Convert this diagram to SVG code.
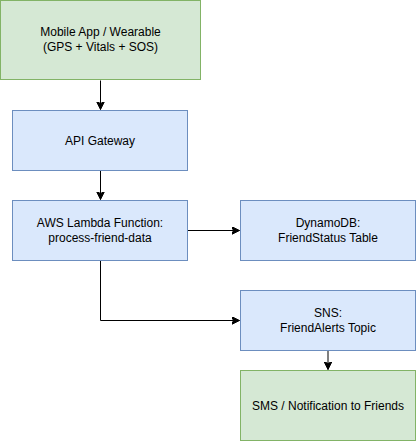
<svg xmlns="http://www.w3.org/2000/svg" width="416" height="441" viewBox="0 0 416 441">
<style>
.g{fill:#d5e8d4;stroke:#82b366;stroke-width:1}
.b{fill:#dae8fc;stroke:#6c8ebf;stroke-width:1}
.t{font-family:"Liberation Sans",Arial,sans-serif;font-size:12px;fill:#000;text-anchor:middle}
.c{fill:none;stroke:#000;stroke-width:1}
</style>
<defs>
<marker id="a" markerWidth="10" markerHeight="10" refX="8" refY="4" orient="auto" markerUnits="userSpaceOnUse">
<path d="M0,0 L8,4 L0,8 L2,4 Z" fill="#000" stroke="#000" stroke-width="1"/>
</marker>
</defs>
<rect width="416" height="441" fill="#fff"/>
<g id="connectors">
<path class="c" d="M100.5,80.5 L100.5,109.5" marker-end="url(#a)"/>
<path class="c" d="M100.5,170.5 L100.5,199.5" marker-end="url(#a)"/>
<path class="c" d="M187.5,230.5 L239.5,230.5" marker-end="url(#a)"/>
<path class="c" d="M100.5,260.5 L100.5,320.5 L239.5,320.5" marker-end="url(#a)"/>
<path class="c" d="M328,350.5 L328,369.5" marker-end="url(#a)"/>
</g>
<g id="mobile">
<rect class="g" x="0.5" y="0.5" width="200" height="79"/>
<text class="t" x="100.5" y="36">Mobile App / Wearable</text>
<text class="t" x="100.5" y="51">(GPS + Vitals + SOS)</text>
</g>
<g id="api">
<rect class="b" x="12.5" y="110.5" width="175" height="60"/>
<text class="t" x="100" y="144.5">API Gateway</text>
</g>
<g id="lambda">
<rect class="b" x="12.5" y="200.5" width="175" height="60"/>
<text class="t" x="100" y="227">AWS Lambda Function:</text>
<text class="t" x="100" y="242">process-friend-data</text>
</g>
<g id="dynamo">
<rect class="b" x="240.5" y="200.5" width="175" height="60"/>
<text class="t" x="328" y="227">DynamoDB:</text>
<text class="t" x="328" y="242">FriendStatus Table</text>
</g>
<g id="sns">
<rect class="b" x="240.5" y="290.5" width="175" height="60"/>
<text class="t" x="328" y="317">SNS:</text>
<text class="t" x="328" y="332">FriendAlerts Topic</text>
</g>
<g id="sms">
<rect class="g" x="240.5" y="370.5" width="175" height="70"/>
<text class="t" x="328" y="410">SMS / Notification to Friends</text>
</g>
</svg>
